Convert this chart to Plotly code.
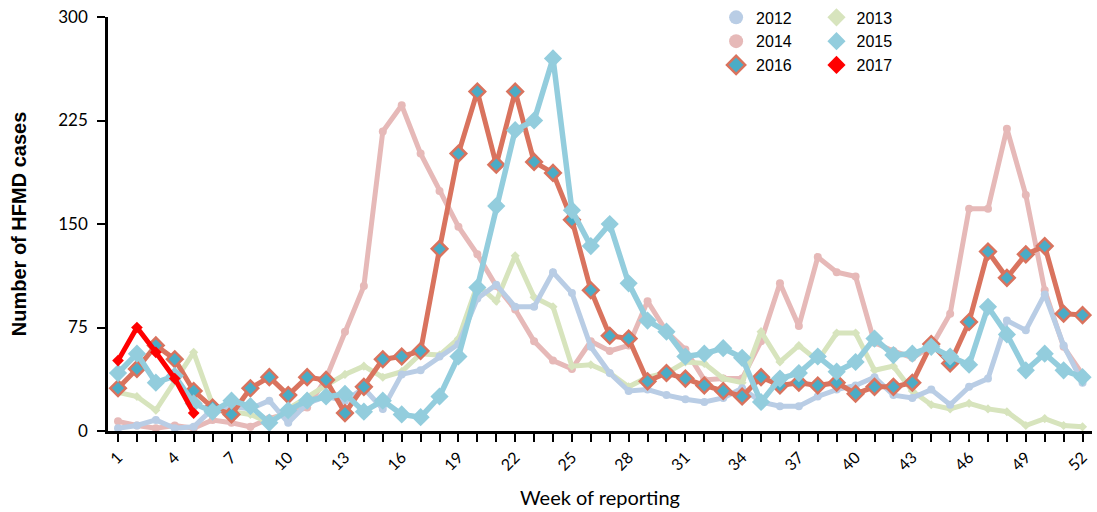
import plotly.graph_objects as go

weeks = list(range(1, 53))
y2012 = [2, 4, 8, 2, 3, 16, 18, 16, 22, 6, 20, 25, 22, 31, 16, 41, 44, 54, 63, 96, 106, 90, 90, 115, 100, 61,
         42, 29, 30, 26, 23, 21, 24, 31, 21, 18, 18, 25, 30, 33, 39, 26, 24, 30, 19, 32, 38, 80, 73, 99, 62, 35]
y2013 = [28, 25, 15, 36, 57, 19, 14, 12, 6, 16, 25, 33, 41, 47, 39, 43, 56, 55, 67, 106, 94, 127, 97, 90, 47, 48,
         42, 32, 39, 42, 50, 49, 38, 35, 72, 50, 62, 51, 71, 71, 44, 47, 29, 19, 16, 20, 16, 14, 4, 9, 4, 3]
y2014 = [7, 4, 2, 4, 2, 8, 6, 3, 9, 13, 17, 38, 72, 105, 217, 236, 201, 174, 148, 128, 105, 88, 65, 51, 45, 65,
         58, 62, 94, 72, 59, 37, 38, 38, 65, 107, 76, 126, 115, 112, 64, 58, 53, 61, 85, 161, 161, 219, 171, 102, 61, 41]
y2015 = [42, 56, 35, 40, 20, 14, 22, 18, 6, 15, 22, 25, 27, 14, 22, 12, 10, 25, 54, 104, 163, 218, 225, 270, 160, 134,
         150, 107, 80, 72, 54, 56, 60, 53, 21, 38, 42, 54, 43, 50, 67, 55, 56, 61, 54, 48, 90, 70, 44, 56, 44, 39]
y2016 = [31, 45, 62, 52, 29, 17, 12, 31, 39, 26, 39, 37, 13, 32, 52, 54, 58, 132, 201, 246, 193, 246, 195, 187, 153, 102,
         69, 67, 36, 42, 38, 33, 29, 25, 39, 33, 35, 33, 35, 27, 32, 32, 35, 63, 49, 79, 130, 111, 128, 134, 85, 84]
weeks2017 = [1, 2, 3, 4, 5]
y2017 = [51, 75, 57, 38, 13]

ytick_vals = [0, 75, 150, 225, 300]
xtick_text = [str(w) if (w - 1) % 3 == 0 else "" for w in weeks]

C2012 = "#B9CDE5"
C2013 = "#D7E4BD"
C2014 = "#E6B9B8"
C2015 = "#93CDDD"
C2016L = "#D9735E"
C2016F = "#4BACC6"
C2017 = "#FF0000"

fig = go.Figure()

def add(x, y, name, line_color, lw, symbol, msize, mcolor, mline_color=None, mline_w=0,
        legend="legend", rank=1, lsize=14):
    fig.add_trace(go.Scatter(
        x=x, y=y, mode="lines+markers", name=name, showlegend=False,
        line=dict(color=line_color, width=lw),
        marker=dict(symbol=symbol, size=msize, color=mcolor,
                    line=dict(color=mline_color or mcolor, width=mline_w)),
    ))
    fig.add_trace(go.Scatter(
        x=[None], y=[None], mode="markers", name=name, legend=legend, legendrank=rank,
        marker=dict(symbol=symbol, size=lsize, color=mcolor,
                    line=dict(color=mline_color or mcolor, width=mline_w)),
    ))

add(weeks, y2014, "2014", C2014, 5, "circle", 8, C2014, legend="legend", rank=2)
add(weeks, y2013, "2013", C2013, 5, "diamond", 7, C2013, legend="legend2", rank=1)
add(weeks, y2012, "2012", C2012, 5, "circle", 8, C2012, legend="legend", rank=1)
add(weeks, y2016, "2016", C2016L, 5, "diamond", 12, C2016F, C2016L, 2.5, legend="legend", rank=3)
add(weeks, y2015, "2015", C2015, 5.5, "diamond", 14, C2015, legend="legend2", rank=2)
add(weeks2017, y2017, "2017", C2017, 5, "diamond", 9, C2017, legend="legend2", rank=3)

legend_common = dict(
    font=dict(family="Liberation Sans, Arial, sans-serif", size=16, color="black"),
    bgcolor="rgba(0,0,0,0)", borderwidth=0, orientation="v",
    xanchor="left", yanchor="top", tracegroupgap=0, itemwidth=30,
)

fig.update_layout(
    width=1097, height=512,
    margin=dict(l=108, r=5, t=17, b=81, autoexpand=False),
    paper_bgcolor="white", plot_bgcolor="white",
    legend=dict(x=0.618, y=1.04, **legend_common),
    legend2=dict(x=0.72, y=1.04, **legend_common),
    xaxis=dict(
        range=[0.47, 52.5], tickmode="array", tickvals=weeks, ticktext=xtick_text,
        tickangle=-45, ticks="outside", ticklen=8, tickwidth=2, tickcolor="black",
        showline=True, linecolor="black", linewidth=2.5, showgrid=False, zeroline=False,
        automargin=False, ticklabeloverflow="allow",
        tickfont=dict(family="Lato, sans-serif", size=16, color="black"),
        title=dict(text="Week of reporting", font=dict(family="Lato, sans-serif", size=20, color="black"), standoff=19),
    ),
    yaxis=dict(
        range=[0, 300], tickmode="array", tickvals=ytick_vals,
        ticks="outside", ticklen=8, tickwidth=2, tickcolor="black",
        showline=True, linecolor="black", linewidth=2.5, showgrid=False, zeroline=False,
        automargin=False, ticklabelstandoff=6, ticklabeloverflow="allow",
        tickfont=dict(family="Lato, sans-serif", size=17, color="black"),
        title=dict(text="<b>Number of HFMD cases</b>", font=dict(family="Liberation Sans, Arial, sans-serif", size=20, color="black"), standoff=27),
    ),
)

fig.write_html(
    "out.html",
    config={"displayModeBar": False},
    post_script="document.body.style.margin='0';document.body.style.overflow='hidden';",
)
